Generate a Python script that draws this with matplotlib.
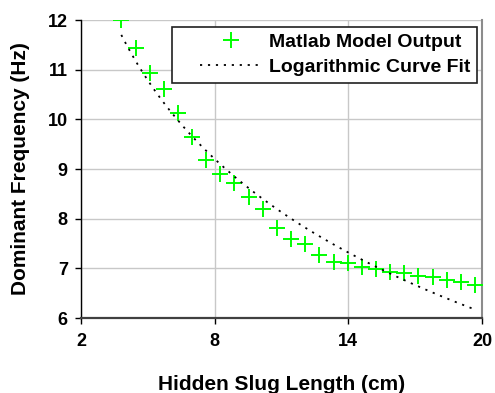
import numpy as np
import matplotlib
matplotlib.use("Agg")
import matplotlib.pyplot as plt
from matplotlib.legend_handler import HandlerLine2D

plt.rcParams['font.family'] = ['Liberation Sans', 'DejaVu Sans']

# hidden slug length (cm) and model output frequency (Hz)
slug_len = [3.81, 4.45, 5.08, 5.72, 6.35, 6.99, 7.62, 8.26, 8.89, 9.53,
            10.16, 10.80, 11.43, 12.07, 12.70, 13.34, 13.97, 14.61, 15.24,
            15.88, 16.51, 17.15, 17.78, 18.42, 19.05, 19.69]
freq = [12.00, 11.44, 10.93, 10.61, 10.12, 9.64, 9.18, 8.90, 8.71, 8.43,
        8.19, 7.81, 7.60, 7.50, 7.27, 7.12, 7.10, 7.02, 6.99, 6.93,
        6.90, 6.85, 6.82, 6.77, 6.73, 6.66]

x_ticks = [2, 8, 14, 20]
y_ticks = [6, 7, 8, 9, 10, 11, 12]

# logarithmic trend line like the spreadsheet one
b, a = np.polyfit(np.log(slug_len), freq, 1)
xf = np.linspace(slug_len[0], slug_len[-1], 200)
yf = a + b * np.log(xf)

fig = plt.figure(figsize=(4.95, 3.93), dpi=100)
ax = fig.add_axes([0.1636, 0.1908, 0.8101, 0.7583])

ax.plot(slug_len, freq, linestyle='none', marker='+', color='#00ff00',
        markersize=12, markeredgewidth=1.4, label='Matlab Model Output', zorder=3)
ax.plot(xf, yf, color='black', linestyle=(0, (1.2, 3.2)), linewidth=1.3,
        label='Logarithmic Curve Fit', zorder=4)

ax.set_xlim(2, 20)
ax.set_ylim(6, 12)
ax.set_xticks(x_ticks)
ax.set_yticks(y_ticks)
ax.grid(True, color='#c8c8c8', linewidth=1)
ax.set_axisbelow(True)

for lab in ax.get_xticklabels() + ax.get_yticklabels():
    lab.set_fontweight('bold')
ax.tick_params(axis='both', labelsize=13, length=4.5, width=1, direction='out')
ax.tick_params(axis='x', pad=6)
ax.tick_params(axis='y', pad=5)

ax.spines['top'].set_visible(False)
ax.spines['right'].set_color('#8c8c8c')
ax.spines['right'].set_linewidth(1.5)
ax.spines['bottom'].set_color('#404040')
ax.spines['bottom'].set_linewidth(1.6)
ax.spines['left'].set_color('black')
ax.spines['left'].set_linewidth(1)

ax.set_xlabel('Hidden Slug Length (cm)', fontsize=15, fontweight='bold', labelpad=18)
ax.set_ylabel('Dominant Frequency (Hz)', fontsize=15, fontweight='bold', labelpad=13)

hmap = {ln: HandlerLine2D(xpad=1.1) for ln in ax.get_lines()}
leg = ax.legend(loc='upper right', bbox_to_anchor=(0.988, 0.977),
                prop={'weight': 'bold', 'size': 14}, fancybox=False, framealpha=1,
                edgecolor='#202020', borderpad=0.35, handlelength=4.3,
                handletextpad=0.36, labelspacing=0.38, borderaxespad=0,
                handler_map=hmap)
leg.get_frame().set_linewidth(1.2)

fig.savefig('out.png', dpi=100)
